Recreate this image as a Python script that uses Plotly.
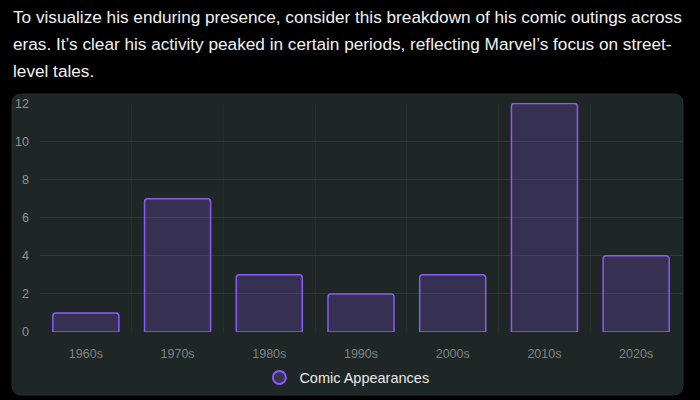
import plotly.graph_objects as go

categories = ["1960s", "1970s", "1980s", "1990s", "2000s", "2010s", "2020s"]
appearances = [1, 7, 3, 2, 3, 12, 4]
series_name = "Comic Appearances"
intro_lines = [
    "To visualize his enduring presence, consider this breakdown of his comic outings across",
    "eras. It\u2019s clear his activity peaked in certain periods, reflecting Marvel\u2019s focus on street-",
    "level tales.",
]

W, H = 700, 400
ML, MR, MT, MB = 40, 18, 103, 68
PW, PH = W - ML - MR, H - MT - MB

def px_x(x):
    return (x - ML) / PW

def px_y(y):
    return (H - MB - y) / PH

BORDER = "#8b5cf6"
FILL = "rgba(139,92,246,0.22)"
CARD = "#1e2626"

fig = go.Figure()
fig.add_trace(go.Bar(
    x=categories, y=appearances, name=series_name, showlegend=False,
    marker=dict(color=FILL, line=dict(color=BORDER, width=1.5)),
    width=0.72,
))
fig.add_trace(go.Scatter(
    x=[None], y=[None], mode="markers", name=series_name,
    marker=dict(symbol="circle", size=13, color="#3a3352", line=dict(color=BORDER, width=2)),
))

# card background with rounded corners
x0, x1, y0, y1, r = 12, 683, 94, 395, 10
def P(x, y):
    return f"{px_x(x)},{px_y(y)}"
path = (f"M {P(x0+r,y0)} L {P(x1-r,y0)} Q {P(x1,y0)} {P(x1,y0+r)} "
        f"L {P(x1,y1-r)} Q {P(x1,y1)} {P(x1-r,y1)} L {P(x0+r,y1)} "
        f"Q {P(x0,y1)} {P(x0,y1-r)} L {P(x0,y0+r)} Q {P(x0,y0)} {P(x0+r,y0)} Z")
fig.add_shape(type="path", path=path, xref="paper", yref="paper",
              fillcolor=CARD, line=dict(color="#263030", width=1), layer="below")

for i, line in enumerate(intro_lines):
    fig.add_annotation(
        text=line, xref="paper", yref="paper",
        x=px_x(11), y=px_y(17 + 27 * i), xanchor="left", yanchor="middle", align="left",
        showarrow=False, font=dict(family="Liberation Sans, Arial, sans-serif", size=17.2, color="#f2f2f2"),
    )

fig.update_layout(
    width=W, height=H,
    margin=dict(l=ML, r=MR, t=MT, b=MB, autoexpand=False),
    paper_bgcolor="#000000", plot_bgcolor="rgba(0,0,0,0)",
    barcornerradius=3,
    font=dict(family="Liberation Sans, Arial, sans-serif", color="#8a8f8f", size=12),
    showlegend=True,
    legend=dict(orientation="h", x=0.478, xanchor="center", y=px_y(377.5), yanchor="middle",
                font=dict(size=14.5, color="#e8e8e8"), bgcolor="rgba(0,0,0,0)",
                itemwidth=30),
    xaxis=dict(type="category", tickson="boundaries", showgrid=True, gridcolor="#252d2d",
               gridwidth=1, zeroline=False, showline=False, ticks="", ticklen=0,
               ticklabelstandoff=12, automargin=False,
               tickfont=dict(size=12.5, color="#7f8585")),
    yaxis=dict(range=[0, 12.02], dtick=2, showgrid=True, gridcolor="#2f3838", gridwidth=1,
               zeroline=False, showline=False, ticks="", ticklabelstandoff=10, automargin=False,
               tickfont=dict(size=12.5, color="#8f9494")),
)

fig.write_html("out.html")
